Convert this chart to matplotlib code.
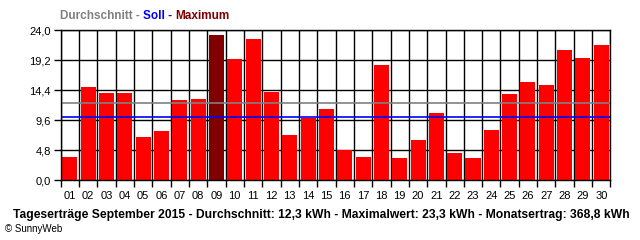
import matplotlib
matplotlib.use("Agg")
import matplotlib.pyplot as plt
import numpy as np

# Tageserträge September 2015 (kWh)
days = ["%02d" % d for d in range(1, 31)]
yields = [3.8, 15.0, 14.0, 14.0, 7.0, 7.9, 12.9, 13.0, 23.3, 19.5,
          22.7, 14.2, 7.3, 10.0, 11.4, 4.9, 3.8, 18.4, 3.6, 6.5,
          10.8, 4.4, 3.6, 8.1, 13.9, 15.8, 15.3, 20.9, 19.6, 21.7]
average = 12.3
target = 10.2
y_ticks = [0.0, 4.8, 9.6, 14.4, 19.2, 24.0]

plt.rcParams['font.family'] = ['Liberation Sans', 'DejaVu Sans']

fig = plt.figure(figsize=(6.4, 2.4), dpi=100)
ax = fig.add_axes([0.0948, 0.249, 0.859, 0.624])

x = np.arange(len(days))
imax = int(np.argmax(yields))
colors = ['#FF0000'] * len(days)
colors[imax] = '#800000'
ax.bar(x, yields, width=0.82, color=colors, zorder=3)

ax.axhline(average, color='#808080', lw=1.2, zorder=4)
ax.axhline(target, color='#0000FF', lw=1.2, zorder=4)

ax.set_xlim(-0.5, len(days) - 0.5)
ax.set_ylim(0, 24)
ax.set_yticks(y_ticks)
ax.set_yticklabels([("%.1f" % v).replace('.', ',') for v in y_ticks], fontsize=8)
ax.set_xticks(x)
ax.set_xticklabels(days, fontsize=8)
ax.set_xticks(np.arange(len(days) + 1) - 0.5, minor=True)
ax.tick_params(axis='x', which='major', length=0, pad=8)
ax.tick_params(axis='x', which='minor', length=5, width=1.0, color='black')
ax.tick_params(axis='y', length=5, width=1.0, pad=2)
ax.grid(True, which='minor', axis='x', color='black', lw=1.0, zorder=1)
ax.grid(True, which='major', axis='y', color='black', lw=1.0, zorder=1)
for s in ax.spines.values():
    s.set_linewidth(1.0)
    s.set_zorder(5)

# legend line at top
fig.canvas.draw()
r = fig.canvas.get_renderer()
xpos = 60 / 640
parts = [("Durchschnitt - ", '#808080'), ("Soll - ", '#0000FF'), ("Maximum", '#800000')]
for txt, c in parts:
    t = fig.text(xpos, 1 - 16 / 240, txt, color=c, fontsize=8.5, fontweight='bold',
                 va='center', ha='left')
    bb = t.get_window_extent(renderer=r)
    xpos += bb.width / 640

fig.text(321 / 640, 1 - 215 / 240,
         "Tageserträge September 2015 - Durchschnitt: 12,3 kWh - Maximalwert: 23,3 kWh - Monatsertrag: 368,8 kWh",
         fontsize=8.7, fontweight='bold', ha='center', va='center')
fig.text(5 / 640, 1 - 229 / 240, "© SunnyWeb", fontsize=7, ha='left', va='center')

fig.savefig("out.png", dpi=100)
